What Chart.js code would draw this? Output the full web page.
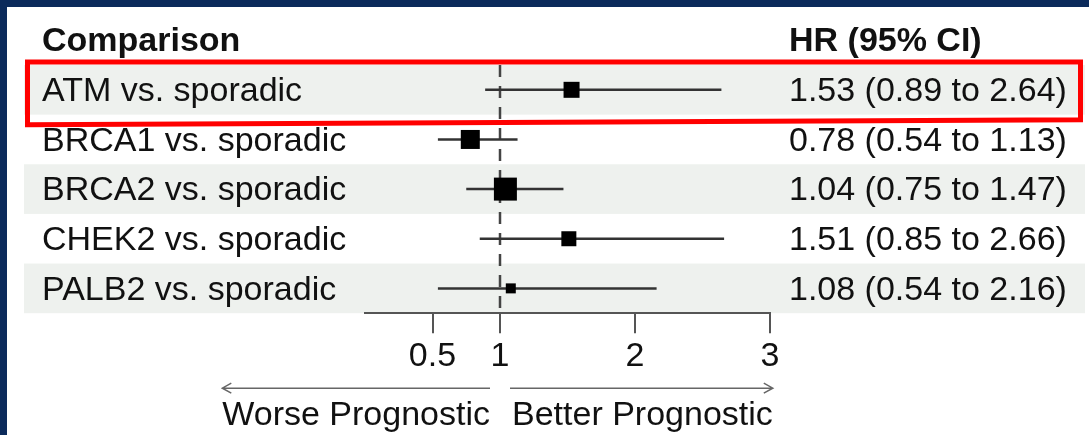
<!DOCTYPE html>
<html>
<head>
<meta charset="utf-8">
<title>Forest plot</title>
<script src="https://cdn.jsdelivr.net/npm/chart.js@4/dist/chart.umd.min.js"></script>
<style>
  html, body { margin: 0; padding: 0; background: #fff; }
  canvas { display: block; }
</style>
</head>
<body>
<canvas id="myChart" width="1089" height="435"></canvas>
<script>
// data
const comparisons = ['ATM vs. sporadic', 'BRCA1 vs. sporadic', 'BRCA2 vs. sporadic', 'CHEK2 vs. sporadic', 'PALB2 vs. sporadic'];
const hr = [1.53, 0.78, 1.04, 1.51, 1.08];
const ciLow = [0.89, 0.54, 0.75, 0.85, 0.54];
const ciHigh = [2.64, 1.13, 1.47, 2.66, 2.16];
const tickValues = [0.5, 1, 2, 3];
const tickLabels = ['0.5', '1', '2', '3'];
const headers = ['Comparison', 'HR (95% CI)'];
const arrowLabels = ['Worse Prognostic', 'Better Prognostic'];

// square side in px (box weight)
const boxSizes = [16, 19, 23, 15, 10];

const FONT = '"Liberation Sans", Arial, Helvetica, sans-serif';
const rowY = comparisons.map((c, i) => i + 1);

function fmt(v) {
    return v.toFixed(2);
}

const forestDecor = {
    id: 'forestDecor',
    beforeDraw(chart) {
        const ctx = chart.ctx;
        const y = chart.scales.y;
        ctx.save();
        ctx.fillStyle = '#ffffff';
        ctx.fillRect(0, 0, chart.width, chart.height);
        // slide border
        ctx.fillStyle = '#0b2a5b';
        ctx.fillRect(0, 0, chart.width, 7);
        ctx.fillRect(0, 0, 7, chart.height);
        // shaded rows
        ctx.fillStyle = '#eef1ee';
        rowY.forEach((r, i) => {
            if (i % 2 === 0) {
                const top = y.getPixelForValue(r - 0.5);
                const bot = y.getPixelForValue(r + 0.5);
                ctx.fillRect(24, top, 1085 - 24, bot - top);
            }
        });
        ctx.restore();
    },
    afterDraw(chart) {
        const ctx = chart.ctx;
        const x = chart.scales.x;
        const y = chart.scales.y;
        const area = chart.chartArea;
        const labelX = 42;
        const hrX = 789;
        ctx.save();
        ctx.fillStyle = '#111111';
        ctx.textBaseline = 'middle';
        ctx.textAlign = 'left';

        // headers
        ctx.font = 'bold 34px ' + FONT;
        ctx.fillText(headers[0], labelX, y.getPixelForValue(0) + 1);
        ctx.fillText(headers[1], hrX, y.getPixelForValue(0) + 1);

        // rows
        ctx.font = '34px ' + FONT;
        rowY.forEach((r, i) => {
            const py = y.getPixelForValue(r) + 2;
            ctx.fillText(comparisons[i], labelX, py);
            ctx.fillText(fmt(hr[i]) + ' (' + fmt(ciLow[i]) + ' to ' + fmt(ciHigh[i]) + ')', hrX, py);
        });

        // arrows + labels under the axis
        const ref = x.getPixelForValue(1);
        const arrowY = area.bottom + 75;
        const textY = area.bottom + 102;
        const leftEnd = ref - 10;
        const rightStart = ref + 12;
        const wLeft = ctx.measureText(arrowLabels[0]).width;
        const wRight = ctx.measureText(arrowLabels[1]).width;
        ctx.textAlign = 'right';
        ctx.fillText(arrowLabels[0], leftEnd, textY);
        ctx.textAlign = 'left';
        ctx.fillText(arrowLabels[1], rightStart, textY);

        ctx.strokeStyle = '#666666';
        ctx.lineWidth = 1.5;
        ctx.beginPath();
        ctx.moveTo(leftEnd, arrowY);
        ctx.lineTo(leftEnd - wLeft, arrowY);
        ctx.moveTo(leftEnd - wLeft + 9, arrowY - 5);
        ctx.lineTo(leftEnd - wLeft, arrowY);
        ctx.lineTo(leftEnd - wLeft + 9, arrowY + 5);
        ctx.moveTo(rightStart - 2, arrowY);
        ctx.lineTo(rightStart + wRight, arrowY);
        ctx.moveTo(rightStart + wRight - 9, arrowY - 5);
        ctx.lineTo(rightStart + wRight, arrowY);
        ctx.lineTo(rightStart + wRight - 9, arrowY + 5);
        ctx.stroke();

        // red highlight around the first row
        const top = y.getPixelForValue(0.5) - 3;
        const bot = y.getPixelForValue(1.5);
        ctx.strokeStyle = '#ff0000';
        ctx.lineWidth = 5;
        ctx.beginPath();
        ctx.moveTo(27.5, top);
        ctx.lineTo(1080.5, top);
        ctx.lineTo(1080.5, bot + 5);
        ctx.lineTo(27.5, bot + 10);
        ctx.closePath();
        ctx.stroke();
        ctx.restore();
    }
};

const squareData = rowY.map((r, i) => ({ x: hr[i], y: r }));
const ciDatasets = rowY.map((r, i) => ({
    type: 'line',
    data: [{ x: ciLow[i], y: r }, { x: ciHigh[i], y: r }],
    borderColor: '#333333',
    borderWidth: 2.5,
    pointRadius: 0,
    clip: false
}));

function initChart() {
    const ctx = document.getElementById('myChart').getContext('2d');
    new Chart(ctx, {
        type: 'scatter',
        data: {
            datasets: [{
                type: 'scatter',
                data: squareData,
                pointStyle: 'rect',
                pointRadius: boxSizes.map(s => s / Math.SQRT2),
                pointHoverRadius: boxSizes.map(s => s / Math.SQRT2),
                backgroundColor: '#000000',
                borderWidth: 0,
                clip: false
            }].concat(ciDatasets, [{
                type: 'line',
                data: [{ x: 1, y: 0.5 }, { x: 1, y: 5.5 }],
                borderColor: '#444444',
                borderWidth: 2.5,
                borderDash: [12, 9],
                pointRadius: 0,
                clip: false
            }])
        },
        plugins: [forestDecor],
        options: {
            responsive: false,
            devicePixelRatio: 1,
            animation: false,
            layout: {
                padding: { left: 365, right: 319, top: 65, bottom: 55 }
            },
            plugins: {
                legend: { display: false },
                tooltip: { enabled: false }
            },
            scales: {
                x: {
                    type: 'linear',
                    min: 0,
                    max: 3,
                    afterBuildTicks: axis => {
                        axis.ticks = tickValues.map(v => ({ value: v }));
                    },
                    grid: {
                        drawOnChartArea: false,
                        tickLength: 20,
                        color: '#555555',
                        lineWidth: 2
                    },
                    border: {
                        display: true,
                        color: '#555555',
                        width: 2
                    },
                    ticks: {
                        padding: 3,
                        color: '#111111',
                        font: { family: FONT, size: 34 },
                        callback: (v, i) => tickLabels[i]
                    }
                },
                y: {
                    type: 'linear',
                    min: 0.5,
                    max: 5.5,
                    reverse: true,
                    display: false
                }
            }
        }
    });
}

initChart();
</script>
</body>
</html>
